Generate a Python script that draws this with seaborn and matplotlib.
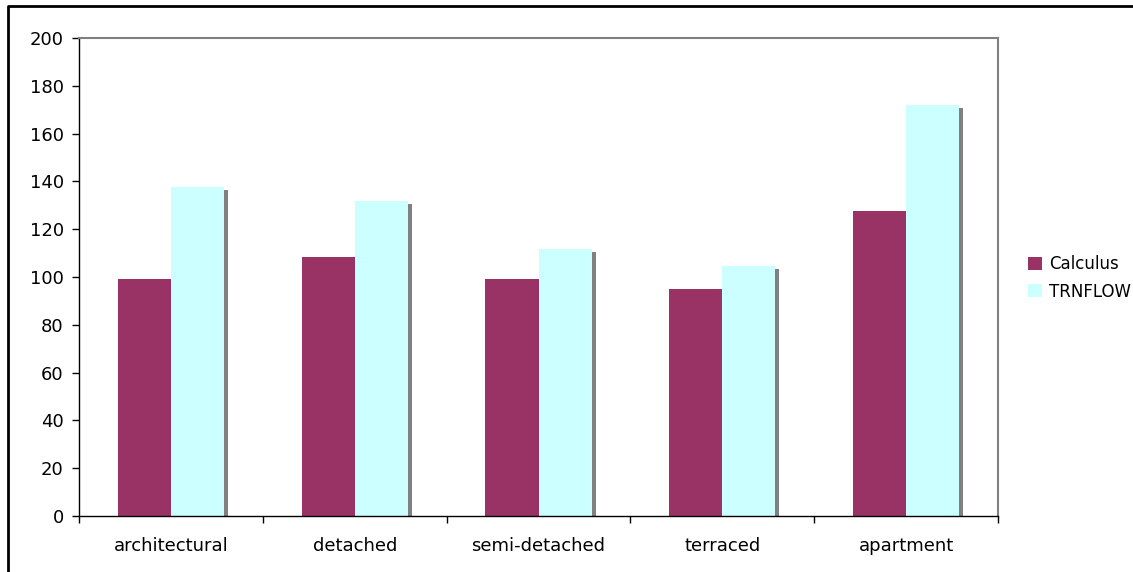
import matplotlib
matplotlib.use("Agg")
import matplotlib.pyplot as plt
import matplotlib.patheffects as pe
from matplotlib.lines import Line2D
from matplotlib.patches import Patch
import seaborn as sns
import pandas as pd
import numpy as np

# Building types and the two models' results
categories = ["architectural", "detached", "semi-detached", "terraced", "apartment"]
calculus = [99, 108.5, 99.3, 94.8, 127.7]
trnflow = [137.8, 132, 111.8, 104.7, 172]
series_names = ["Calculus", "TRNFLOW"]
y_ticks = [0, 20, 40, 60, 80, 100, 120, 140, 160, 180, 200]

colors = {"Calculus": "#993366", "TRNFLOW": "#CCFFFF"}

df = pd.DataFrame({
    "category": categories * 2,
    "value": calculus + trnflow,
    "series": [series_names[0]] * len(categories) + [series_names[1]] * len(categories),
})

sns.set_theme(style="white")
plt.rcParams["font.family"] = ["DejaVu Sans"]
plt.rcParams["text.color"] = "black"

fig = plt.figure(figsize=(11.33, 5.72), dpi=100)
ax = fig.add_axes([79 / 1133, 1 - 516 / 572, (998 - 79) / 1133, (516 - 38) / 572])

sns.barplot(data=df, x="category", y="value", hue="series", order=categories,
            hue_order=series_names, palette=colors, width=0.577, saturation=1,
            linewidth=0, gap=0, ax=ax, legend=False)

# drop shadow on the bars
for bar in ax.patches:
    bar.set_path_effects([pe.SimplePatchShadow(offset=(2.9, -2.3), shadow_rgbFace="#808080", alpha=1.0),
                          pe.Normal()])

ax.set_xlim(-0.5, len(categories) - 0.5)
ax.set_ylim(0, 200)
ax.set_yticks(y_ticks)
ax.set_xlabel("")
ax.set_ylabel("")

# spines
for side in ["left", "bottom"]:
    ax.spines[side].set_color("#000000")
    ax.spines[side].set_linewidth(1.0)
for side in ["top", "right"]:
    ax.spines[side].set_color("#808080")
    ax.spines[side].set_linewidth(1.5)

ax.tick_params(axis="y", direction="out", length=5, width=1, color="black",
               labelsize=13, labelcolor="black", pad=6, left=True)
# category labels centred, boundary ticks as minor ticks
ax.set_xticks(np.arange(-0.5, len(categories), 1.0), minor=True)
ax.tick_params(axis="x", which="major", length=0, labelsize=13, labelcolor="black", pad=15)
ax.tick_params(axis="x", which="minor", direction="out", length=5, width=1, color="black", bottom=True)

handles = [Patch(facecolor=colors[s], edgecolor="none", label=s) for s in series_names]
fig.legend(handles=handles, loc="center left", bbox_to_anchor=(1016 / 1133, 1 - 278 / 572),
           frameon=False, fontsize=12, handlelength=0.85, handleheight=0.85,
           handletextpad=0.45, labelspacing=0.55, borderpad=0.2, labelcolor="black")

# outer chart frame
fig.add_artist(Line2D([8 / 1133, 8 / 1133, 1.0], [0.0, 1 - 6 / 572, 1 - 6 / 572],
                      transform=fig.transFigure, color="black", linewidth=2.0))

fig.savefig("out.png", dpi=100)
